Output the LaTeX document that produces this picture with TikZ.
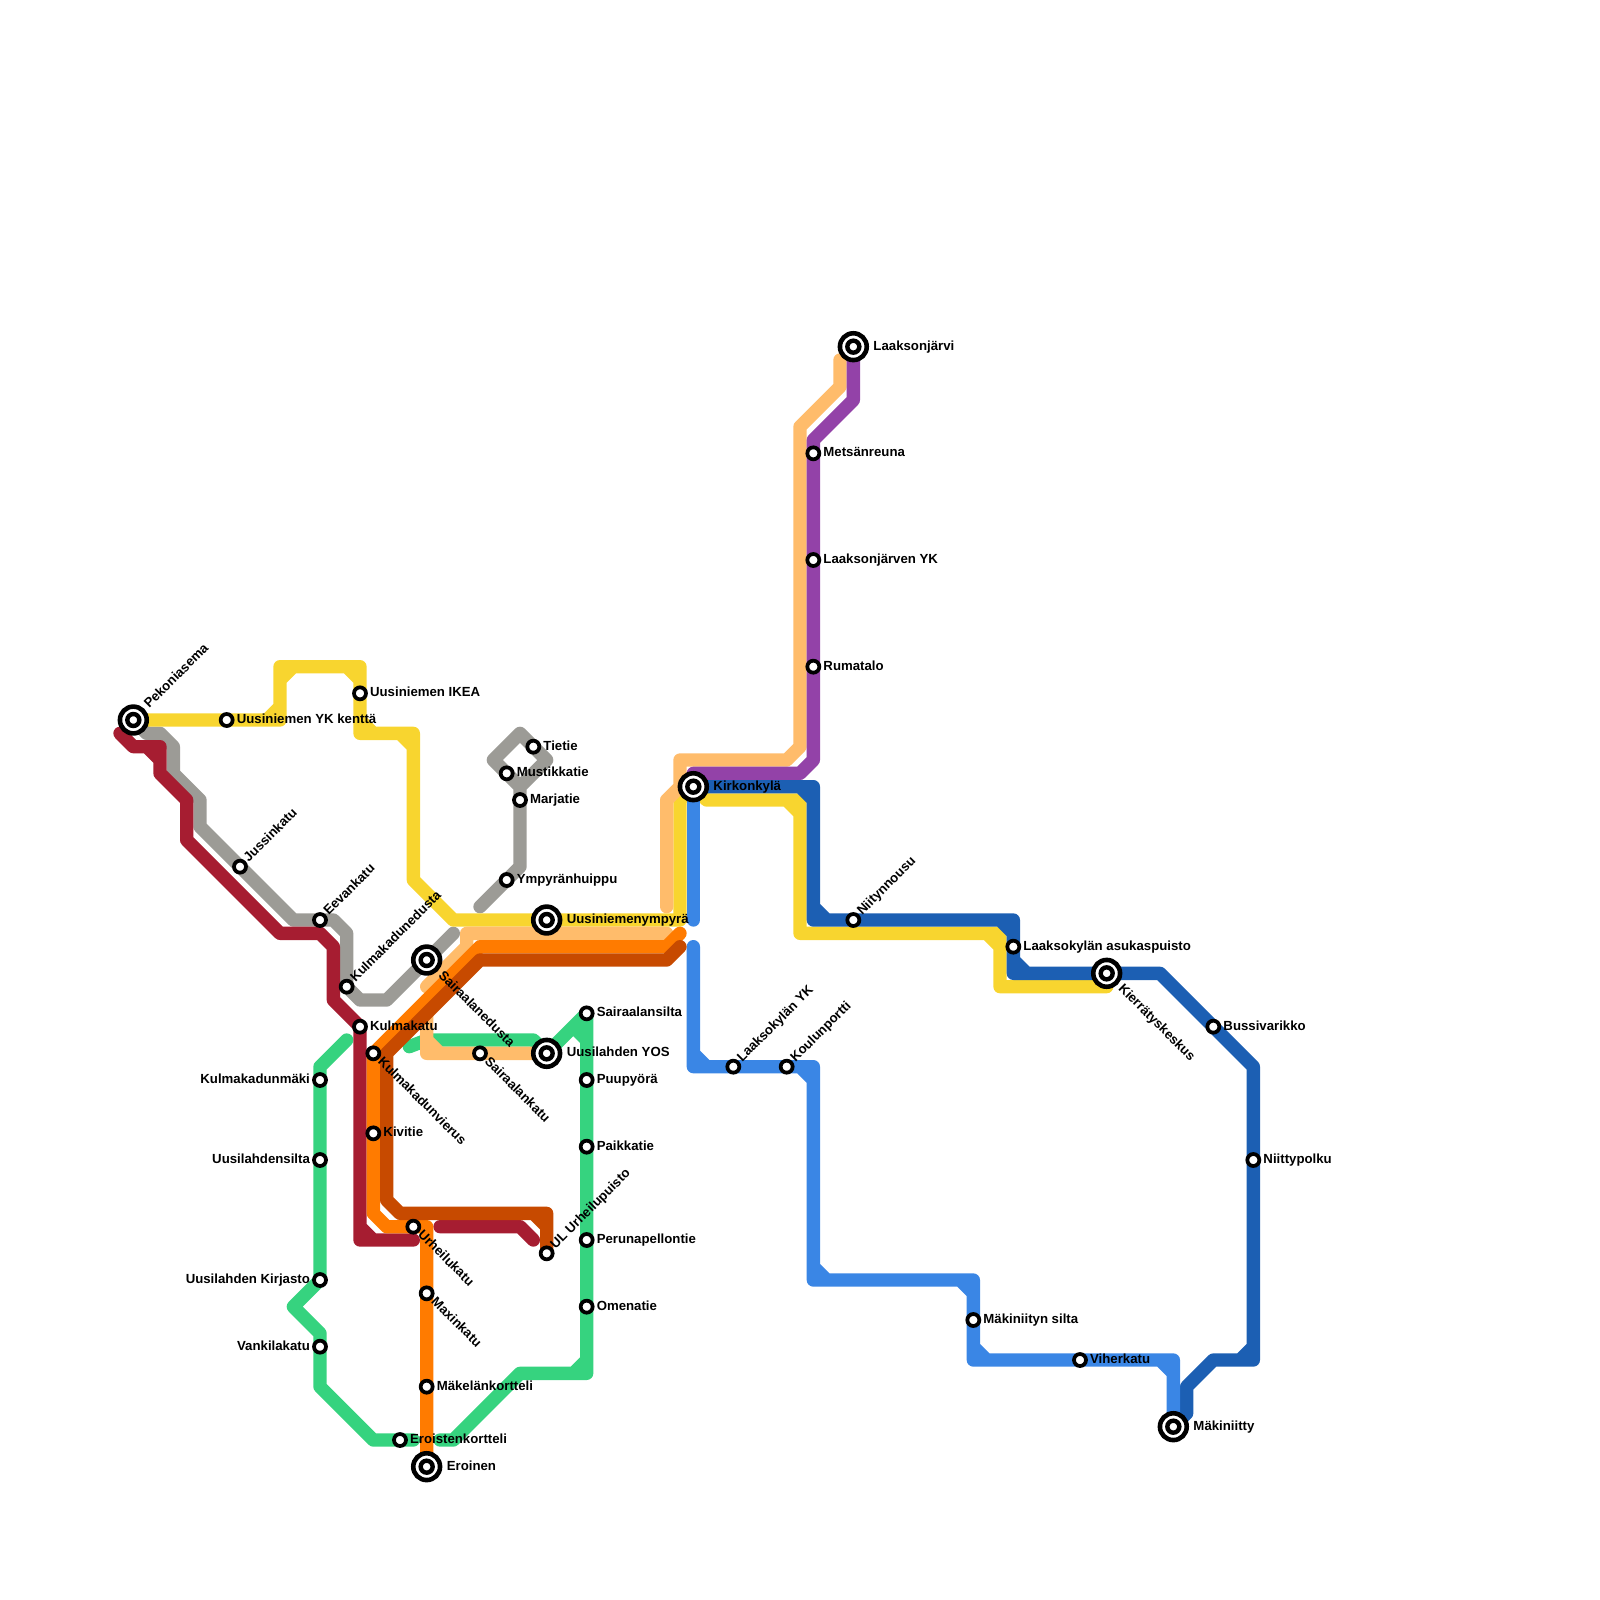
\documentclass[tikz,border=0pt]{standalone}
\usepackage{fontspec}
\setmainfont{Liberation Sans}
\usetikzlibrary{positioning,backgrounds}
\definecolor{lineyellow}{HTML}{F8D52F}
\definecolor{linegray}{HTML}{9C9B96}
\definecolor{linered}{HTML}{A61D31}
\definecolor{linegreen}{HTML}{36D37F}
\definecolor{linepeach}{HTML}{FFBC6B}
\definecolor{lineorange}{HTML}{FF7B00}
\definecolor{linebrown}{HTML}{C74A00}
\definecolor{linenavy}{HTML}{1C5FB3}
\definecolor{lineblue}{HTML}{3A86E5}
\definecolor{linepurple}{HTML}{9342A8}

\begin{document}
\begin{tikzpicture}[
    x=0.5cm, y=-0.5cm,
    node distance=1pt,
    metro/.style={line width=0.5cm, line cap=round, line join=round},
    stop/.style={circle, draw=black, fill=white, line width=4pt, minimum size=12.8pt, inner sep=0pt, outer sep=1.2pt},
    hub/.style={circle, draw=black, fill=white, line width=4.9pt, minimum size=28.6pt, inner sep=0pt, outer sep=4pt,
        path picture={\draw[black, line width=4.7pt] (path picture bounding box.center) circle (6.4pt);}},
    stopname/.style={font=\bfseries\fontsize{14.1}{16}\selectfont, inner sep=2pt, text height=10.1pt, text depth=2.8pt},
    nameup/.style={stopname, rotate=45, anchor=west},
    namedown/.style={stopname, rotate=-45, anchor=west}
]
    \useasboundingbox (0,0) rectangle (120,120);

    % stops
    \node[hub] (pekoni) at (10,54) {};
    \node[stop] (ykkentta) at (17,54) {};
    \node[stop] (ikea) at (27,52) {};
    \node[stop] (jussin) at (18,65) {};
    \node[stop] (eevan) at (24,69) {};
    \node[stop] (kulmaned) at (26,74) {};
    \node[hub] (sairaned) at (32,72) {};
    \node[stop] (kulma) at (27,77) {};
    \node[stop] (kulmavier) at (28,79) {};
    \node[stop] (kivi) at (28,85) {};
    \node[stop] (sairaankatu) at (36,79) {};
    \node[hub] (yos) at (41,79) {};
    \node[stop] (sairaansilta) at (44,76) {};
    \node[stop] (puu) at (44,81) {};
    \node[stop] (paikka) at (44,86) {};
    \node[stop] (peruna) at (44,93) {};
    \node[stop] (omena) at (44,98) {};
    \node[stop] (ulpuisto) at (41,94) {};
    \node[stop] (urheilu) at (31,92) {};
    \node[stop] (maxin) at (32,97) {};
    \node[stop] (makelan) at (32,104) {};
    \node[stop] (eroisten) at (30,108) {};
    \node[hub] (eroinen) at (32,110) {};
    \node[stop] (kulmamaki) at (24,81) {};
    \node[stop] (lahdensilta) at (24,87) {};
    \node[stop] (kirjasto) at (24,96) {};
    \node[stop] (vankila) at (24,101) {};
    \node[stop] (tie) at (40,56) {};
    \node[stop] (mustikka) at (38,58) {};
    \node[stop] (marja) at (39,60) {};
    \node[stop] (huippu) at (38,66) {};
    \node[hub] (ympyra) at (41,69) {};
    \node[hub] (kirkon) at (52,59) {};
    \node[hub] (jarvi) at (64,26) {};
    \node[stop] (metsan) at (61,34) {};
    \node[stop] (jarviyk) at (61,42) {};
    \node[stop] (ruma) at (61,50) {};
    \node[stop] (niitty) at (64,69) {};
    \node[stop] (asukas) at (76,71) {};
    \node[hub] (kierra) at (83,73) {};
    \node[stop] (bussi) at (91,77) {};
    \node[stop] (polku) at (94,87) {};
    \node[stop] (viher) at (81,102) {};
    \node[hub] (makiniitty) at (88,107) {};
    \node[stop] (makisilta) at (73,99) {};
    \node[stop] (kylayk) at (55,80) {};
    \node[stop] (koulu) at (59,80) {};

    % names
    \node[nameup] at (pekoni.45) {Pekoniasema};
    \node[stopname, right=of ykkentta] {Uusiniemen YK kenttä};
    \node[stopname, right=of ikea] {Uusiniemen IKEA};
    \node[nameup] at (jussin.45) {Jussinkatu};
    \node[nameup] at (eevan.45) {Eevankatu};
    \node[nameup] at (kulmaned.45) {Kulmakadunedusta};
    \node[namedown] at (sairaned.-45) {Sairaalanedusta};
    \node[stopname, right=of kulma] {Kulmakatu};
    \node[namedown] at (kulmavier.-45) {Kulmakadunvierus};
    \node[stopname, right=of kivi] {Kivitie};
    \node[namedown] at (sairaankatu.-45) {Sairaalankatu};
    \node[stopname, right=of yos] {Uusilahden YOS};
    \node[stopname, right=of sairaansilta] {Sairaalansilta};
    \node[stopname, right=of puu] {Puupyörä};
    \node[stopname, right=of paikka] {Paikkatie};
    \node[stopname, right=of peruna] {Perunapellontie};
    \node[stopname, right=of omena] {Omenatie};
    \node[nameup] at (ulpuisto.45) {UL Urheilupuisto};
    \node[namedown] at (urheilu.-45) {Urheilukatu};
    \node[namedown] at (maxin.-45) {Maxinkatu};
    \node[stopname, right=of makelan] {Mäkelänkortteli};
    \node[stopname, right=of eroisten] {Eroistenkortteli};
    \node[stopname, right=of eroinen] {Eroinen};
    \node[stopname, left=of kulmamaki] {Kulmakadunmäki};
    \node[stopname, left=of lahdensilta] {Uusilahdensilta};
    \node[stopname, left=of kirjasto] {Uusilahden Kirjasto};
    \node[stopname, left=of vankila] {Vankilakatu};
    \node[stopname, right=of tie] {Tietie};
    \node[stopname, right=of mustikka] {Mustikkatie};
    \node[stopname, right=of marja] {Marjatie};
    \node[stopname, right=of huippu] {Ympyränhuippu};
    \node[stopname, right=of ympyra] {Uusiniemenympyrä};
    \node[stopname, right=of kirkon] {Kirkonkylä};
    \node[stopname, right=of jarvi] {Laaksonjärvi};
    \node[stopname, right=of metsan] {Metsänreuna};
    \node[stopname, right=of jarviyk] {Laaksonjärven YK};
    \node[stopname, right=of ruma] {Rumatalo};
    \node[nameup] at (niitty.45) {Niitynnousu};
    \node[stopname, right=of asukas] {Laaksokylän asukaspuisto};
    \node[namedown] at (kierra.-45) {Kierrätyskeskus};
    \node[stopname, right=of bussi] {Bussivarikko};
    \node[stopname, right=of polku] {Niittypolku};
    \node[stopname, right=of viher] {Viherkatu};
    \node[stopname, right=of makiniitty] {Mäkiniitty};
    \node[stopname, right=of makisilta] {Mäkiniityn silta};
    \node[nameup] at (kylayk.45) {Laaksokylän YK};
    \node[nameup] at (koulu.45) {Koulunportti};

    % lines
    \begin{pgfonlayer}{background}
    \draw[metro, linegray] (pekoni.center) -- (11,55) -- (12,55) -- (13,56) -- (13,58) -- (15,60) -- (15,62) -- (jussin.center) -- (22,69)
        -- (eevan.center) -- (25,69) -- (26,70) -- (kulmaned.center) -- (27,75) -- (29,75) -- (sairaned.center) -- (34,70);
    \draw[metro, linegray] (36,68) -- (huippu.center) -- (39,65) -- (marja.center) -- (39,59) -- (mustikka.center) -- (37,57) -- (39,55)
        -- (tie.center) -- (41,57) -- (39,59);
    \draw[metro, linegreen] (26,78) -- (24,80) -- (kulmamaki.center) -- (lahdensilta.center) -- (kirjasto.center) -- (22,98) -- (24,100)
        -- (vankila.center) -- (24,104) -- (28,108) -- (eroisten.center) -- (31,108);
    \draw[metro, linegreen] (33,108) -- (34,108) -- (39,103) -- (44,103) -- (omena.center) -- (peruna.center) -- (paikka.center) -- (puu.center)
        -- (sairaansilta.center) -- (yos.center) (43,103) -- (44,102) (43,77) -- (44,78);
    \draw[metro, linegreen] (30.7,78.5) -- (32,78) -- (40,78) -- (yos.center);
    \draw[metro, lineyellow] (pekoni.center) -- (ykkentta.center) -- (21,54) -- (21,50) -- (27,50) -- (ikea.center) -- (27,55) -- (31,55) -- (31,66)
        -- (34,69) -- (ympyra.center) -- (51,69) -- (51,60) -- (kirkon.center) -- (53,60) -- (60,60) -- (60,70) -- (75,70) -- (75,74)
        -- (83,74) -- (kierra.center)
        (20,54) -- (21,53) (21,51) -- (22,50) (26,50) -- (27,51) (27,54) -- (28,55) (30,55) -- (31,56) (59,60) -- (60,61) (74,70) -- (75,71);
    \draw[metro, linepeach] (32,74) -- (35,71) -- (35,70) -- (50,70);
    \draw[metro, linepeach] (32,75) -- (32,79) -- (sairaankatu.center) -- (yos.center) (32,78) -- (33,79);
    \draw[metro, linepeach] (50,68) -- (50,60) -- (51,59) -- (51,57) -- (59,57) -- (60,56) -- (60,32) -- (63,29) -- (63,27);
    \draw[metro, linepurple] (jarvi.center) -- (64,30) -- (61,33) -- (metsan.center) -- (jarviyk.center) -- (ruma.center) -- (61,57) -- (60,58)
        -- (52,58) -- (kirkon.center);
    \draw[metro, linenavy] (kirkon.center) -- (61,59) -- (61,69) -- (niitty.center) -- (76,69) -- (asukas.center) -- (76,73) -- (kierra.center) -- (87,73)
        -- (bussi.center) -- (94,80) -- (polku.center) -- (94,102) -- (91,102) -- (89,104) -- (89,106) -- (makiniitty.center)
        (60,59) -- (61,60) (61,68) -- (62,69) (75,69) -- (76,70) (76,72) -- (77,73) (93,102) -- (94,101);
    \draw[metro, lineblue] (kirkon.center) -- (52,69);
    \draw[metro, lineblue] (52,71) -- (52,80) -- (kylayk.center) -- (koulu.center) -- (61,80) -- (61,96) -- (73,96) -- (makisilta.center) -- (73,102)
        -- (viher.center) -- (88,102) -- (makiniitty.center)
        (52,79) -- (53,80) (60,80) -- (61,81) (61,95) -- (62,96) (72,96) -- (73,97) (73,101) -- (74,102) (87,102) -- (88,103);
    \draw[metro, linered] (9,55) -- (10,56) -- (12,56) -- (12,58) -- (14,60) -- (14,63) -- (21,70) -- (24,70) -- (25,71) -- (25,75) -- (kulma.center) -- (27,93) -- (31,93)
        (11,56) -- (12,57) (27,92) -- (28,93);
    \draw[metro, linered] (33,92) -- (39,92) -- (40,93);
    \draw[metro, lineorange] (51,70) -- (50,71) -- (36,71) -- (kulmavier.center) -- (kivi.center) -- (28,91) -- (29,92) -- (urheilu.center) -- (32,92)
        -- (maxin.center) -- (makelan.center) -- (eroinen.center);
    \draw[metro, linebrown] (51,71) -- (50,72) -- (36,72) -- (29,79) -- (29,90) -- (30,91) -- (41,91) -- (ulpuisto.center) (40,91) -- (41,92);
    \end{pgfonlayer}
\end{tikzpicture}
\end{document}
